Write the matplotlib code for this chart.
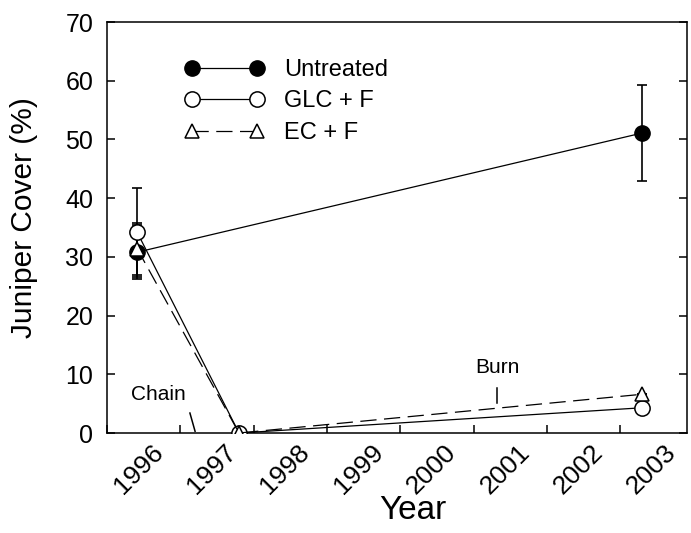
import numpy as np
import matplotlib.pyplot as plt
from matplotlib.lines import Line2D
from matplotlib.ticker import FixedLocator, NullFormatter, FixedFormatter

# data (sampling dates as decimal years)
untreated_x = [1996.41, 2003.30]
untreated_y = [30.8, 51.1]
untreated_err = [4.6, 8.1]

glc_x = [1996.41, 1997.80, 2003.30]
glc_y = [34.2, 0.0, 4.3]
glc_err = [7.6, 0.0, 0.0]

ec_x = [1996.41, 1997.80, 2003.30]
ec_y = [31.4, 0.0, 6.6]
ec_err = [4.4, 0.0, 0.0]

years = [1996, 1997, 1998, 1999, 2000, 2001, 2002, 2003]
year_labels = [str(y) for y in years]

plt.rcParams['font.family'] = ['Liberation Sans', 'DejaVu Sans']

fig = plt.figure(figsize=(6.91, 5.33), dpi=100)
ax = fig.add_axes([0.155, 0.1876, 0.839, 0.771])

lw = 0.9
dash = (0, (13, 6))
ebar = dict(fmt='none', ecolor='k', elinewidth=1.2, capsize=3.5, capthick=1.2)

ax.errorbar(untreated_x, untreated_y, yerr=untreated_err, zorder=2, **ebar)
ax.errorbar(glc_x, glc_y, yerr=glc_err, zorder=2, **ebar)
ax.errorbar(ec_x, ec_y, yerr=ec_err, zorder=2, **ebar)

ax.plot(untreated_x, untreated_y, color='k', lw=lw, marker='o', ms=11,
        mfc='k', mec='k', zorder=3)
ax.plot(glc_x, glc_y, color='k', lw=lw, marker='o', ms=11,
        mfc='white', mec='k', mew=1.1, zorder=4)
ax.plot(ec_x, ec_y, color='k', lw=lw, ls=dash, marker='^', ms=10,
        mfc='white', mec='k', mew=1.1, zorder=5)

# treatment markers
ax.text(1996.70, 6.5, 'Chain', fontsize=15, ha='center', va='center')
ax.plot([1997.13, 1997.20], [3.4, 0.3], color='k', lw=1.1)
ax.text(2001.32, 11.1, 'Burn', fontsize=15, ha='center', va='center')
ax.plot([2001.32, 2001.32], [7.7, 5.1], color='k', lw=1.1)

ax.set_xlim(1996, 2003.91)
ax.set_ylim(0, 70)

ax.xaxis.set_major_locator(FixedLocator(years))
ax.xaxis.set_major_formatter(NullFormatter())
ax.xaxis.set_minor_locator(FixedLocator([y + 0.83 for y in years]))
ax.xaxis.set_minor_formatter(FixedFormatter(year_labels))
ax.tick_params(axis='x', which='major', direction='in', length=6, width=1.1)
ax.tick_params(axis='x', which='minor', length=0, pad=5, labelsize=19)
for lab in ax.xaxis.get_minorticklabels():
    lab.set_rotation(45)
    lab.set_ha('right')
    lab.set_va('top')

ax.set_yticks(np.arange(0, 71, 10))
ax.tick_params(axis='y', direction='in', length=6, width=1.1, right=True,
               labelsize=18, pad=10)

for s in ax.spines.values():
    s.set_linewidth(1.1)

ax.set_xlabel('Year', fontsize=24)
ax.xaxis.set_label_coords(0.528, -0.152)
ax.set_ylabel('Juniper Cover (%)', fontsize=21.5)
ax.yaxis.set_label_coords(-0.119, 0.525)

handles = [
    Line2D([], [], color='k', lw=lw, marker='o', ms=11, mfc='k', mec='k'),
    Line2D([], [], color='k', lw=lw, marker='o', ms=11, mfc='white', mec='k', mew=1.1),
    Line2D([], [], color='k', lw=lw, ls=dash, marker='^', ms=10, mfc='white', mec='k', mew=1.1),
]
ax.legend(handles, ['Untreated', 'GLC + F', 'EC + F'], loc='upper left',
          bbox_to_anchor=(0.134, 0.91), frameon=False, numpoints=2,
          handlelength=3.35, handletextpad=0.85, fontsize=17,
          labelspacing=0.4, borderpad=0, borderaxespad=0)

fig.savefig('out.png', dpi=100)
